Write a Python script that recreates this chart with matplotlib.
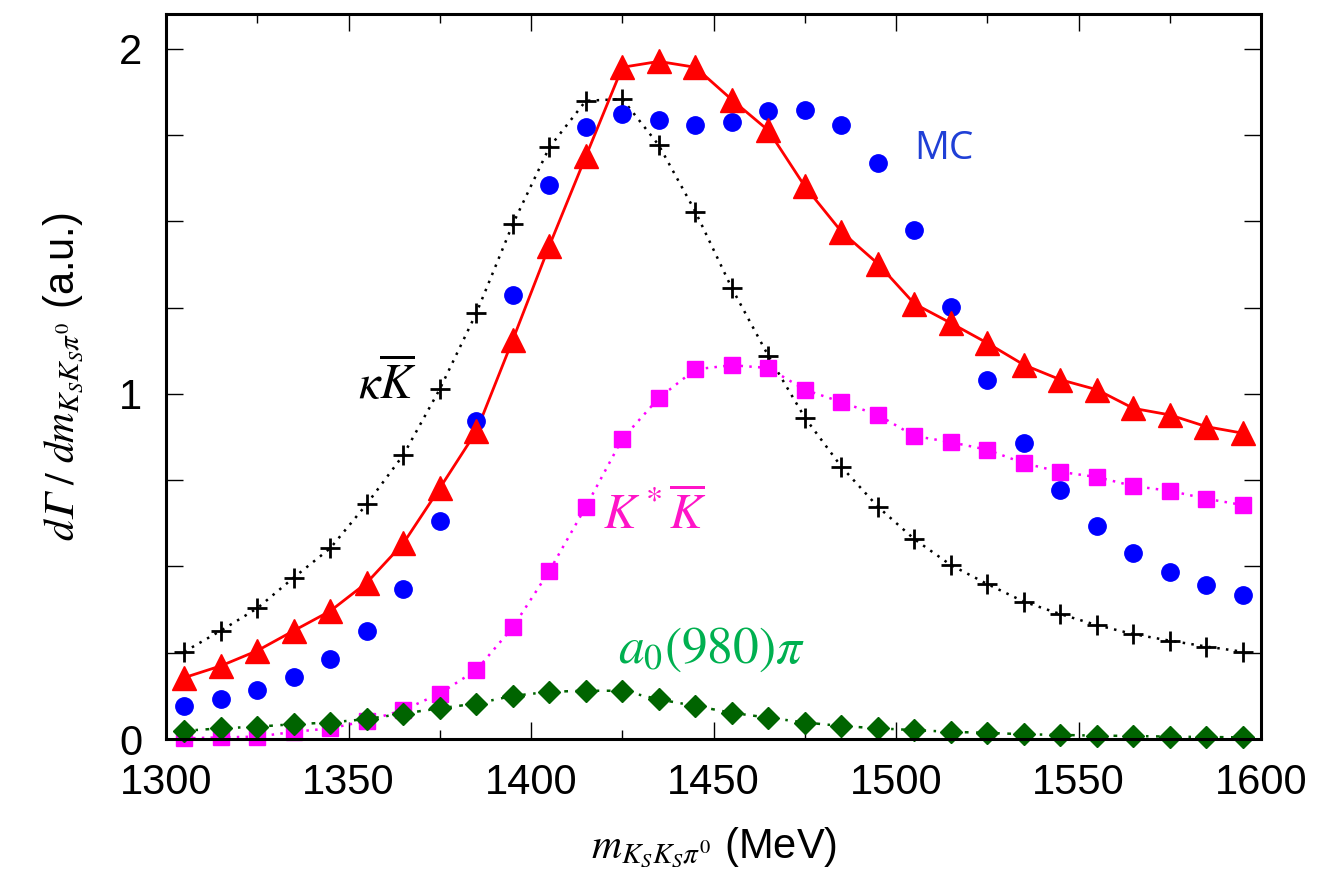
"""
dGamma/dm spectrum for KS KS pi0: MC vs. model contributions.
"""
import matplotlib
matplotlib.use('Agg')
import numpy as np
import matplotlib.pyplot as plt
from matplotlib.ticker import MultipleLocator, FixedLocator, FuncFormatter

plt.rcParams['font.family'] = ['Liberation Sans', 'DejaVu Sans']
plt.rcParams['mathtext.fontset'] = 'stix'

# bin centres (MeV)
mass = [1305, 1315, 1325, 1335, 1345, 1355, 1365, 1375, 1385, 1395,
        1405, 1415, 1425, 1435, 1445, 1455, 1465, 1475, 1485, 1495,
        1505, 1515, 1525, 1535, 1545, 1555, 1565, 1575, 1585, 1595]

# total (red triangles)
total = [0.178, 0.212, 0.256, 0.314, 0.371, 0.453, 0.567, 0.727, 0.891, 1.157,
         1.429, 1.688, 1.946, 1.963, 1.946, 1.852, 1.763, 1.601, 1.470, 1.377,
         1.261, 1.205, 1.147, 1.084, 1.041, 1.012, 0.958, 0.939, 0.905, 0.886]

# MC (blue circles)
mc = [0.096, 0.115, 0.142, 0.179, 0.231, 0.313, 0.434, 0.632, 0.922, 1.287,
      1.605, 1.773, 1.811, 1.792, 1.779, 1.788, 1.820, 1.821, 1.778, 1.670,
      1.475, 1.252, 1.039, 0.857, 0.722, 0.617, 0.538, 0.485, 0.447, 0.418]

# kappa Kbar (black crosses)
kappa_k = [0.253, 0.314, 0.379, 0.468, 0.553, 0.681, 0.823, 1.014, 1.234, 1.492,
           1.714, 1.849, 1.854, 1.720, 1.528, 1.306, 1.110, 0.931, 0.789, 0.673,
           0.579, 0.504, 0.449, 0.398, 0.362, 0.330, 0.304, 0.285, 0.268, 0.253]

# K* Kbar (magenta squares)
kstar_k = [0.002, 0.005, 0.007, 0.021, 0.031, 0.053, 0.084, 0.132, 0.200, 0.324,
           0.487, 0.673, 0.870, 0.988, 1.071, 1.083, 1.075, 1.012, 0.976, 0.939,
           0.878, 0.860, 0.838, 0.799, 0.774, 0.759, 0.733, 0.719, 0.696, 0.678]

# a0(980) pi (green diamonds)
a0_pi = [0.024, 0.031, 0.036, 0.043, 0.048, 0.058, 0.074, 0.089, 0.103, 0.125,
         0.137, 0.140, 0.140, 0.115, 0.096, 0.076, 0.062, 0.048, 0.038, 0.031,
         0.026, 0.021, 0.018, 0.014, 0.012, 0.010, 0.009, 0.007, 0.006, 0.005]


def main():
    fig = plt.figure(figsize=(13.22, 8.83), dpi=100)
    ax = fig.add_axes([0.1256, 0.163, 0.8284, 0.821])

    # lines first (clipped), then markers on top (unclipped, like gnuplot)
    ax.plot(mass, kappa_k, color='black', lw=1.8, ls=(0, (1, 2.5)))
    ax.plot(mass, total, color='red', lw=2.0, ls='-')
    ax.plot(mass, kstar_k, color='#ff00ff', lw=1.8, ls=(0, (1, 2.5)))
    ax.plot(mass, a0_pi, color='#006400', lw=1.8, ls=(0, (1.5, 3, 1, 3)))

    ax.plot(mass, kappa_k, ls='none', marker='+', ms=14, mew=2.0,
            color='black', clip_on=False)
    ax.plot(mass, mc, ls='none', marker='o', ms=12.5, color='#0000ff',
            clip_on=False)
    ax.plot(mass, total, ls='none', marker='^', ms=17, color='red',
            clip_on=False)
    ax.plot(mass, kstar_k, ls='none', marker='s', ms=12, color='#ff00ff',
            clip_on=False)
    ax.plot(mass, a0_pi, ls='none', marker='D', ms=11.5, color='#006400',
            clip_on=False)

    ax.set_xlim(1300, 1600)
    ax.set_ylim(0, 2.1)

    ax.xaxis.set_major_locator(MultipleLocator(50))
    ax.xaxis.set_minor_locator(MultipleLocator(25))
    ax.yaxis.set_major_locator(FixedLocator(np.arange(0, 2.01, 0.25)))
    ax.yaxis.set_major_formatter(
        FuncFormatter(lambda v, p: f'{v:.0f}' if abs(v - round(v)) < 1e-6 else ''))

    ax.tick_params(which='both', direction='in', top=True, right=True,
                   labelsize=30, width=1.0, pad=17)
    ax.tick_params(which='major', length=12)
    ax.tick_params(which='minor', length=6.5)
    for sp in ax.spines.values():
        sp.set_linewidth(2.2)

    ax.set_xlabel(r'$m_{K_SK_S\pi^0}$ (MeV)', fontsize=30, labelpad=16)
    # math-italic capital Gamma (U+1D6E4)
    ax.set_ylabel('$d\U0001D6E4\\ /\\ dm_{K_SK_S\\pi^0}$ (a.u.)',
                  fontsize=30, labelpad=24)

    ax.text(1360.5, 1.03, r'$\kappa\overline{K}$', fontsize=35,
            color='black', ha='center', va='center')
    ax.text(1513, 1.71, 'MC', fontsize=28, color='#1f3fd6',
            ha='center', va='center', family=['Open Sans', 'DejaVu Sans'])
    ax.text(1434, 0.65, r'$K^*\overline{K}$', fontsize=35,
            color='#ff14c8', ha='center', va='center')
    ax.text(1449.5, 0.26, r'$a_0(980)\pi$', fontsize=37,
            color='#00b050', ha='center', va='center')

    fig.savefig('out.png', dpi=100)
    plt.close(fig)


if __name__ == "__main__":
    main()
